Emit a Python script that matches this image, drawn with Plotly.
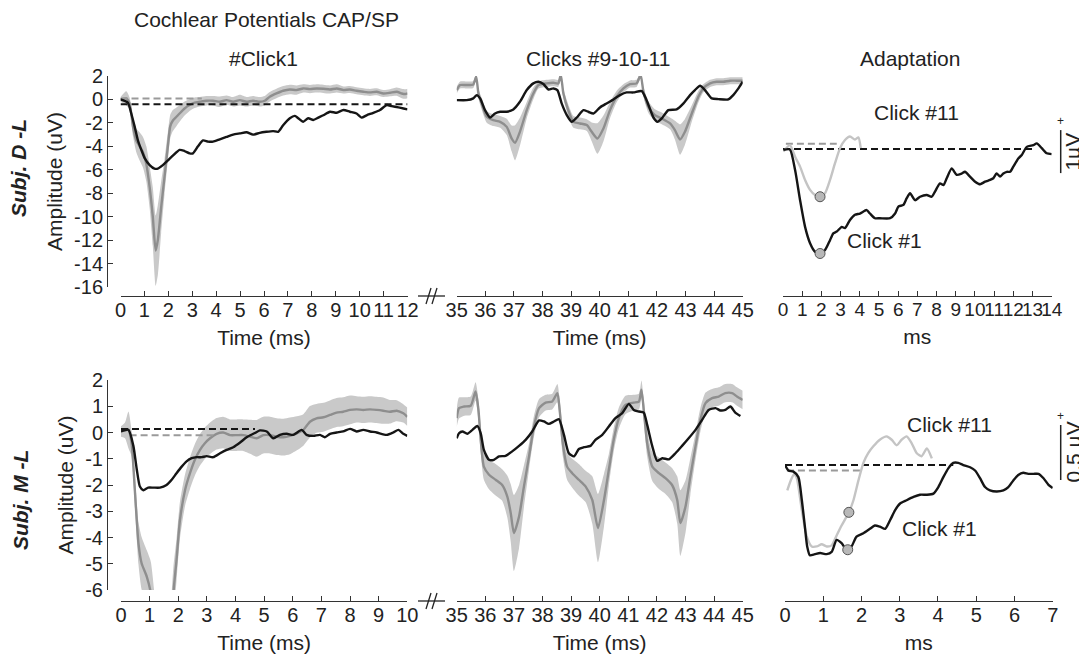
import plotly.graph_objects as go

# The page body has an 8 px margin: the figure is made smaller so that the page never
# scrolls, and every layout position below is given in window pixels shifted by OFF.
WIN_W, WIN_H = 1087, 662
OFF = 8
W, H = WIN_W - OFF, WIN_H - 2 * OFF

# ---------------- data: top row (Subj. D -L) ----------------
t1_gray_x = [0, 0.24, 0.38, 0.52, 0.66, 0.80, 0.94, 1.08, 1.22, 1.35, 1.47, 1.56, 1.70, 1.84, 1.98, 2.08, 2.19, 2.33, 2.47, 2.68,
             2.89, 3.10, 3.31, 3.59, 3.87, 4.15, 4.43, 4.71, 4.99, 5.27, 5.54, 5.82, 6.03, 6.24, 6.52, 6.80, 7.08, 7.36, 7.64, 7.92,
             8.20, 8.48, 8.76, 9.04, 9.32, 9.59, 9.87, 10.15, 10.43, 10.71, 10.99, 11.27, 11.55, 11.76, 11.90, 12.0]
t1_gray_y = [0, 0.09, -0.34, -2.3, -3.5, -4.0, -4.5, -5.5, -7.5, -10.0, -12.9, -12.0, -9.2, -6.6, -4.0, -2.3, -1.8, -1.5, -1.2, -0.77,
             -0.48, -0.28, -0.2, -0.11, -0.11, -0.2, -0.06, -0.2, -0.06, -0.2, -0.11, -0.2, -0.11, 0.23, 0.51, 0.74, 0.85, 0.8, 0.94, 0.88,
             0.94, 0.91, 0.85, 0.94, 0.8, 0.85, 0.74, 0.66, 0.6, 0.66, 0.51, 0.57, 0.66, 0.51, 0.46, 0.51]
t1_gray_sd = [0.2, 0.6, 0.5, 0.8, 1.0, 1.2, 1.3, 1.5, 1.8, 2.5, 3.0, 3.0, 2.2, 1.5, 1.2, 1.0, 0.9, 0.8, 0.7, 0.6,
              0.5, 0.45, 0.4, 0.4, 0.4, 0.45, 0.4, 0.4, 0.45, 0.4, 0.4, 0.4, 0.4, 0.4, 0.4, 0.4, 0.4, 0.4, 0.35, 0.35,
              0.35, 0.35, 0.35, 0.35, 0.3, 0.3, 0.3, 0.3, 0.3, 0.3, 0.3, 0.3, 0.35, 0.4, 0.4, 0.4]
t1_black_x = [0, 0.31, 0.45, 0.59, 0.73, 0.87, 1.01, 1.22, 1.42, 1.56, 1.77, 1.98, 2.19, 2.47, 2.68, 2.89, 3.03, 3.24, 3.45, 3.66,
              3.87, 4.15, 4.43, 4.71, 4.99, 5.27, 5.54, 5.82, 6.10, 6.38, 6.59, 6.80, 7.08, 7.29, 7.43, 7.64, 7.85, 8.06, 8.27, 8.48,
              8.76, 9.04, 9.32, 9.59, 9.87, 10.08, 10.29, 10.57, 10.85, 11.13, 11.34, 11.62, 11.83, 12.0]
t1_black_y = [0, -0.28, -1.2, -2.3, -3.5, -4.3, -5.0, -5.6, -5.9, -5.9, -5.6, -5.2, -4.8, -4.3, -4.4, -4.6, -4.6, -4.0, -3.5, -3.6,
              -3.6, -3.4, -3.2, -3.0, -2.9, -2.8, -3.0, -2.85, -2.76, -2.7, -2.76, -2.2, -1.6, -1.4, -1.6, -1.9, -1.6, -1.75, -1.55, -1.35,
              -1.05, -1.14, -0.9, -1.05, -1.2, -1.55, -1.35, -1.14, -0.9, -0.48, -0.57, -0.68, -0.77, -0.85]
t1_base_black_x, t1_base_black_y = [0, 12], [-0.4, -0.4]
t1_base_gray_x, t1_base_gray_y = [0, 3.4], [0.09, 0.09]

t2_gray_x = [35.0, 35.12, 35.35, 35.58, 35.68, 35.76, 35.87, 36.05, 36.28, 36.52, 36.75, 36.92, 37.04, 37.21, 37.45, 37.68, 37.86,
             38.15, 38.38, 38.55, 38.64, 38.73, 38.90, 39.08, 39.31, 39.55, 39.72, 39.92, 40.13, 40.36, 40.59, 40.83, 41.06, 41.29,
             41.43, 41.53, 41.70, 41.93, 42.17, 42.46, 42.63, 42.81, 42.98, 43.22, 43.45, 43.62, 43.86, 44.09, 44.32, 44.56, 44.79, 45.0]
t2_gray_y = [0.8, 1.23, 1.23, 1.28, 1.94, 0.51, -0.34, -1.48, -1.77, -1.91, -2.34, -3.33, -3.70, -2.76, -0.91, 0.51, 1.23,
             1.37, 1.42, 1.37, 2.08, 0.51, -0.91, -1.91, -2.05, -2.19, -2.76, -3.33, -2.48, -0.91, 0.23, 0.94, 1.31, 1.37,
             2.08, 0.66, -0.63, -1.34, -1.62, -2.05, -2.62, -3.42, -2.76, -1.2, 0.23, 0.94, 1.37, 1.51, 1.51, 1.6, 1.6, 1.6]
t2_gray_sd = [0.3, 0.3, 0.3, 0.3, 0.3, 0.4, 0.5, 0.5, 0.5, 0.5, 0.7, 1.1, 1.5, 1.2, 0.7, 0.5, 0.3,
              0.3, 0.3, 0.3, 0.3, 0.4, 0.5, 0.5, 0.5, 0.5, 0.8, 1.3, 1.1, 0.7, 0.5, 0.35, 0.3, 0.3,
              0.3, 0.4, 0.5, 0.5, 0.5, 0.5, 0.8, 1.3, 1.1, 0.7, 0.5, 0.35, 0.3, 0.3, 0.3, 0.3, 0.3, 0.3]
t2_black_x = [35.0, 35.35, 35.58, 35.70, 35.82, 35.99, 36.17, 36.34, 36.52, 36.75, 36.98, 37.21, 37.45, 37.68, 37.86, 38.03, 38.21,
              38.38, 38.52, 38.67, 38.85, 39.02, 39.20, 39.43, 39.60, 39.78, 40.01, 40.24, 40.48, 40.71, 40.94, 41.18, 41.47, 41.64,
              41.88, 42.02, 42.17, 42.40, 42.69, 42.93, 43.16, 43.33, 43.51, 43.68, 43.92, 44.15, 44.50, 44.67, 44.85, 45.0]
t2_black_y = [-0.06, -0.06, 0.09, 0.37, 0.09, -0.91, -1.54, -1.2, -1.05, -1.05, -0.85, -0.2, 0.8, 1.37, 1.51, 1.31, 0.85,
              0.94, 0.8, -0.34, -1.34, -1.91, -1.54, -0.91, -1.05, -1.2, -0.68, -0.34, 0, 0.37, 0.6, 0.6, 0.71, -0.06,
              -1.54, -1.91, -1.62, -0.91, -0.85, -0.34, 0.37, 0.8, 1.17, 0.8, 0.09, 0.03, 0, 0.37, 0.94, 1.51]

a1_click1_x = [0.02, 0.36, 0.63, 0.89, 1.15, 1.41, 1.67, 1.93, 2.19, 2.45, 2.62, 2.80, 3.06, 3.23, 3.49, 3.75, 4.01, 4.36, 4.53, 4.79,
               5.05, 5.58, 5.84, 6.01, 6.27, 6.44, 6.62, 6.88, 7.14, 7.49, 7.75, 7.92, 8.18, 8.36, 8.53, 8.79, 9.05, 9.31, 9.48, 9.74,
               10.01, 10.27, 10.53, 10.79, 10.96, 11.13, 11.31, 11.48, 11.66, 11.83, 12.0, 12.26, 12.44, 12.70, 13.04, 13.22, 13.48, 13.74, 14.0]
a1_click1_y = [-0.02, -0.01, -0.49, -1.19, -1.81, -2.19, -2.39, -2.43, -2.35, -2.12, -1.96, -1.92, -1.81, -1.84, -1.65, -1.53, -1.50, -1.42, -1.50, -1.61,
               -1.61, -1.61, -1.50, -1.34, -1.30, -1.15, -1.03, -1.19, -1.11, -1.07, -1.11, -0.99, -0.80, -0.84, -0.68, -0.45, -0.60, -0.57, -0.53, -0.64,
               -0.76, -0.82, -0.76, -0.72, -0.68, -0.57, -0.64, -0.57, -0.53, -0.53, -0.41, -0.22, -0.14, 0.05, 0.09, 0.13, 0.02, -0.10, -0.12]
a1_click11_x = [0.02, 0.36, 0.63, 0.89, 1.15, 1.41, 1.67, 1.93, 2.19, 2.45, 2.71, 2.97, 3.23, 3.49, 3.75, 3.93, 4.05]
a1_click11_y = [-0.06, 0.09, -0.18, -0.41, -0.72, -0.95, -1.07, -1.11, -1.03, -0.72, -0.33, 0.02, 0.21, 0.29, 0.22, 0.27, 0.02]
a1_peak_x = [1.93, 1.93]
a1_peak_y = [-1.11, -2.43]
a1_base_black_x, a1_base_black_y = [0, 13.0], [0, 0]
a1_base_gray_x, a1_base_gray_y = [0.15, 2.8], [0.12, 0.12]

# ---------------- data: bottom row (Subj. M -L) ----------------
b1_gray_x = [0, 0.14, 0.26, 0.37, 0.49, 0.61, 0.72, 0.90, 1.04, 1.2, 1.4, 1.6, 1.75, 1.83, 1.94, 2.06, 2.24, 2.41, 2.58, 2.76,
             2.93, 3.11, 3.34, 3.57, 3.81, 4.04, 4.27, 4.51, 4.74, 4.97, 5.20, 5.44, 5.67, 5.90, 6.14, 6.37, 6.60, 6.83, 7.07, 7.30,
             7.53, 7.76, 8.00, 8.23, 8.46, 8.70, 8.93, 9.16, 9.39, 9.63, 9.86, 10.0]
b1_gray_y = [0.04, 0.08, 0.1, -0.41, -2.31, -4.22, -4.98, -5.49, -6.12, -8.0, -10.0, -9.5, -7.6, -6.12, -4.85, -3.33, -2.18, -1.55, -1.04, -0.66,
             -0.41, -0.22, -0.05, 0.0, -0.1, -0.1, -0.1, -0.16, -0.22, -0.1, -0.1, -0.16, -0.18, -0.13, -0.03, 0.1, 0.41, 0.54, 0.58, 0.67,
             0.76, 0.79, 0.86, 0.88, 0.86, 0.88, 0.86, 0.83, 0.79, 0.83, 0.73, 0.6]
b1_gray_sd = [0.2, 0.3, 0.7, 0.5, 0.6, 0.8, 1.0, 1.0, 1.2, 1.5, 1.5, 1.5, 1.2, 1.0, 0.8, 0.7, 0.6, 0.6, 0.6, 0.6,
              0.6, 0.6, 0.6, 0.6, 0.6, 0.6, 0.6, 0.65, 0.7, 0.7, 0.7, 0.7, 0.7, 0.7, 0.65, 0.6, 0.6, 0.55, 0.55, 0.55,
              0.55, 0.55, 0.55, 0.5, 0.5, 0.5, 0.5, 0.5, 0.45, 0.4, 0.35, 0.35]
b1_black_x = [0, 0.26, 0.43, 0.55, 0.66, 0.78, 0.95, 1.13, 1.36, 1.59, 1.77, 1.94, 2.12, 2.29, 2.47, 2.64, 2.82, 2.99, 3.22, 3.46,
              3.69, 3.92, 4.16, 4.39, 4.66, 4.85, 5.09, 5.32, 5.55, 5.79, 6.02, 6.31, 6.48, 6.72, 6.95, 7.12, 7.30, 7.53, 7.76, 8.00,
              8.23, 8.46, 8.70, 8.93, 9.28, 9.51, 9.69, 9.86, 10.0]
b1_black_y = [0.04, 0.1, -0.5, -1.4, -2.06, -2.2, -2.1, -2.1, -2.1, -2.0, -1.8, -1.55, -1.3, -1.1, -0.98, -0.94, -0.94, -0.9, -0.94, -0.79,
              -0.66, -0.56, -0.38, -0.18, -0.03, 0.08, 0.04, -0.22, -0.09, -0.05, -0.09, 0.1, -0.09, -0.13, -0.09, -0.18, -0.05, 0, 0.04, 0.14,
              0.04, 0.1, 0.04, 0, -0.09, 0, 0.1, -0.05, -0.13]
b1_base_black_x, b1_base_black_y = [0, 4.68], [0.13, 0.13]
b1_base_gray_x, b1_base_gray_y = [0.3, 3.22], [-0.1, -0.1]

b2_gray_x = [35.0, 35.08, 35.26, 35.49, 35.66, 35.76, 35.84, 35.95, 36.13, 36.36, 36.59, 36.77, 36.89, 37.00, 37.18, 37.35, 37.53, 37.70, 37.88,
             38.11, 38.34, 38.52, 38.60, 38.71, 38.86, 39.04, 39.27, 39.51, 39.74, 39.94, 40.15, 40.32, 40.49, 40.67, 40.90, 41.19, 41.37, 41.46,
             41.54, 41.66, 41.84, 42.07, 42.30, 42.53, 42.71, 42.82, 43.00, 43.17, 43.35, 43.52, 43.70, 43.93, 44.16, 44.39, 44.63, 44.80, 45.0]
b2_gray_y = [0.55, 0.93, 0.99, 1.02, 1.56, 0.86, -0.28, -1.3, -1.61, -1.8, -2.0, -2.44, -3.07, -3.83, -3.2, -2.06, -0.91, 0.23, 0.93,
             1.14, 1.18, 1.5, 0.86, -0.41, -1.3, -1.55, -1.8, -2.06, -2.57, -3.64, -2.57, -1.42, -0.28, 0.55, 1.05, 1.14, 1.18, 1.63,
             0.86, -0.41, -1.3, -1.55, -1.74, -2.0, -2.57, -3.45, -2.82, -1.68, -0.53, 0.48, 1.12, 1.31, 1.37, 1.5, 1.5, 1.37, 1.24]
b2_gray_sd = [0.35, 0.4, 0.35, 0.35, 0.35, 0.4, 0.5, 0.5, 0.55, 0.6, 0.6, 0.8, 1.1, 1.45, 1.2, 0.8, 0.5, 0.4, 0.35,
              0.3, 0.3, 0.35, 0.4, 0.5, 0.5, 0.55, 0.6, 0.6, 0.9, 1.3, 1.0, 0.6, 0.45, 0.4, 0.35, 0.3, 0.3, 0.35,
              0.4, 0.5, 0.55, 0.6, 0.6, 0.65, 0.9, 1.25, 1.0, 0.7, 0.5, 0.45, 0.4, 0.35, 0.35, 0.35, 0.35, 0.35, 0.35]
b2_black_x = [35.0, 35.08, 35.20, 35.37, 35.55, 35.72, 35.84, 35.95, 36.13, 36.30, 36.48, 36.71, 36.94, 37.18, 37.41, 37.64, 37.88, 38.05,
              38.22, 38.40, 38.57, 38.75, 38.92, 39.10, 39.27, 39.45, 39.68, 39.85, 40.09, 40.32, 40.55, 40.79, 41.02, 41.19, 41.37, 41.54,
              41.66, 41.84, 42.01, 42.19, 42.42, 42.65, 42.88, 43.11, 43.35, 43.58, 43.81, 44.05, 44.22, 44.39, 44.57, 44.74, 44.92]
b2_black_y = [-0.22, -0.03, 0.04, -0.05, 0.1, 0.25, -0.03, -0.66, -1.04, -1.04, -0.91, -0.89, -0.72, -0.51, -0.28, 0.04, 0.46, 0.42,
              0.33, 0.42, 0.51, -0.09, -0.79, -0.91, -0.63, -0.56, -0.51, -0.28, -0.09, 0.23, 0.55, 0.74, 1.09, 0.86, 0.8, 0.76,
              0.29, -0.53, -1.08, -0.98, -1.02, -0.79, -0.51, -0.22, 0.1, 0.48, 0.86, 0.93, 0.84, 0.86, 0.99, 0.76, 0.63]

a2_click1_x = [0, 0.09, 0.22, 0.35, 0.44, 0.52, 0.58, 0.65, 0.78, 0.92, 1.09, 1.22, 1.35, 1.48, 1.61, 1.74, 1.87, 2.05, 2.22, 2.35,
               2.48, 2.62, 2.75, 2.88, 3.01, 3.18, 3.36, 3.53, 3.71, 3.88, 4.01, 4.14, 4.27, 4.40, 4.53, 4.66, 4.84, 4.97, 5.10, 5.23,
               5.36, 5.54, 5.71, 5.84, 5.97, 6.10, 6.23, 6.36, 6.50, 6.63, 6.76, 6.89, 7.0]
a2_click1_y = [0, -0.05, -0.06, -0.11, -0.32, -0.56, -0.74, -0.82, -0.81, -0.80, -0.81, -0.79, -0.68, -0.71, -0.77, -0.74, -0.65, -0.62, -0.58, -0.55,
               -0.56, -0.58, -0.50, -0.41, -0.35, -0.32, -0.29, -0.27, -0.27, -0.26, -0.20, -0.11, -0.03, 0.02, 0.02, 0, -0.02, -0.05, -0.12, -0.20,
               -0.23, -0.24, -0.23, -0.20, -0.14, -0.09, -0.07, -0.08, -0.08, -0.08, -0.12, -0.18, -0.21]
a2_click11_x = [0.06, 0.15, 0.24, 0.31, 0.44, 0.57, 0.70, 0.83, 0.96, 1.09, 1.22, 1.35, 1.48, 1.67, 1.79, 1.92, 2.05, 2.18, 2.31, 2.48,
                2.66, 2.79, 2.92, 3.05, 3.18, 3.31, 3.44, 3.57, 3.71, 3.84]
a2_click11_y = [-0.23, -0.14, -0.08, -0.12, -0.41, -0.65, -0.74, -0.74, -0.72, -0.74, -0.73, -0.64, -0.55, -0.43, -0.32, -0.14, 0.02, 0.11, 0.17, 0.23,
                0.26, 0.23, 0.18, 0.23, 0.26, 0.20, 0.11, 0.08, 0.15, 0.06]
a2_peak_x = [1.67, 1.64]
a2_peak_y = [-0.43, -0.77]
a2_base_black_x, a2_base_black_y = [0, 4.4], [0, 0]
a2_base_gray_x, a2_base_gray_y = [0.05, 2.0], [-0.05, -0.05]

# tick labels
top1_xticks = list(range(0, 13))
bot1_xticks = list(range(0, 11))
mid_xticks = list(range(35, 46))
top3_xticks = list(range(0, 15))
bot3_xticks = list(range(0, 8))
top_yticks = [2, 0, -2, -4, -6, -8, -10, -12, -14, -16]
bot_yticks = [2, 1, 0, -1, -2, -3, -4, -5, -6]

for xs, ys in [(t1_gray_x, t1_gray_y), (t1_gray_x, t1_gray_sd), (t1_black_x, t1_black_y), (t2_gray_x, t2_gray_y),
               (t2_gray_x, t2_gray_sd), (t2_black_x, t2_black_y), (a1_click1_x, a1_click1_y), (a1_click11_x, a1_click11_y),
               (b1_gray_x, b1_gray_y), (b1_gray_x, b1_gray_sd), (b1_black_x, b1_black_y), (b2_gray_x, b2_gray_y),
               (b2_gray_x, b2_gray_sd), (b2_black_x, b2_black_y), (a2_click1_x, a2_click1_y), (a2_click11_x, a2_click11_y)]:
    assert len(xs) == len(ys), (len(xs), len(ys))

# ---------------- styling ----------------
FONT = "Liberation Sans, Arial, Helvetica, sans-serif"
TXT = "#222222"
BAND = "#c9c9c9"
MEAN = "#8e8e8e"
BLACK = "#151515"
GRAYDASH = "#9a9a9a"
CLICK11 = "#c4c4c4"
TICKSIZE = 20
LABELSIZE = 21


def fx(px):
    return (px - OFF) / W


def fy(py):
    return 1 - (py - OFF) / H


fig = go.Figure()


def line(x, y, n, color, width=2.4, dash=None, shape="spline"):
    fig.add_trace(go.Scatter(x=x, y=y, xaxis=f"x{n}", yaxis=f"y{n}", mode="lines",
                             line=dict(color=color, width=width, dash=dash, shape=shape, smoothing=0.6),
                             showlegend=False, hoverinfo="skip"))


def band(x, y, sd, n):
    lo = [a - b for a, b in zip(y, sd)]
    hi = [a + b for a, b in zip(y, sd)]
    fig.add_trace(go.Scatter(x=x, y=lo, xaxis=f"x{n}", yaxis=f"y{n}", mode="lines",
                             line=dict(width=0, color=BAND, shape="spline", smoothing=0.6),
                             showlegend=False, hoverinfo="skip"))
    fig.add_trace(go.Scatter(x=x, y=hi, xaxis=f"x{n}", yaxis=f"y{n}", mode="lines", fill="tonexty",
                             fillcolor=BAND, line=dict(width=0, color=BAND, shape="spline", smoothing=0.6),
                             showlegend=False, hoverinfo="skip"))


DASH = "7px,4px"

# top row
band(t1_gray_x, t1_gray_y, t1_gray_sd, 1)
line(t1_gray_x, t1_gray_y, 1, MEAN)
line(t1_base_gray_x, t1_base_gray_y, 1, GRAYDASH, 2, DASH, "linear")
line(t1_base_black_x, t1_base_black_y, 1, BLACK, 2, DASH, "linear")
line(t1_black_x, t1_black_y, 1, BLACK)

band(t2_gray_x, t2_gray_y, t2_gray_sd, 2)
line(t2_gray_x, t2_gray_y, 2, MEAN)
line(t2_black_x, t2_black_y, 2, BLACK)

line(a1_base_gray_x, a1_base_gray_y, 3, GRAYDASH, 2, DASH, "linear")
line(a1_base_black_x, a1_base_black_y, 3, BLACK, 2, DASH, "linear")
line(a1_click11_x, a1_click11_y, 3, CLICK11)
line(a1_click1_x, a1_click1_y, 3, BLACK)
fig.add_trace(go.Scatter(x=a1_peak_x, y=a1_peak_y, xaxis="x3", yaxis="y3", mode="markers",
                         marker=dict(size=10, color="#b8b8b8", line=dict(color="#555555", width=1)),
                         showlegend=False, hoverinfo="skip"))

# bottom row
band(b1_gray_x, b1_gray_y, b1_gray_sd, 4)
line(b1_gray_x, b1_gray_y, 4, MEAN)
line(b1_base_gray_x, b1_base_gray_y, 4, GRAYDASH, 2, DASH, "linear")
line(b1_base_black_x, b1_base_black_y, 4, BLACK, 2, DASH, "linear")
line(b1_black_x, b1_black_y, 4, BLACK)

band(b2_gray_x, b2_gray_y, b2_gray_sd, 5)
line(b2_gray_x, b2_gray_y, 5, MEAN)
line(b2_black_x, b2_black_y, 5, BLACK)

line(a2_base_gray_x, a2_base_gray_y, 6, GRAYDASH, 2, DASH, "linear")
line(a2_base_black_x, a2_base_black_y, 6, BLACK, 2, DASH, "linear")
line(a2_click11_x, a2_click11_y, 6, CLICK11)
line(a2_click1_x, a2_click1_y, 6, BLACK)
fig.add_trace(go.Scatter(x=a2_peak_x, y=a2_peak_y, xaxis="x6", yaxis="y6", mode="markers",
                         marker=dict(size=10, color="#b8b8b8", line=dict(color="#555555", width=1)),
                         showlegend=False, hoverinfo="skip"))

# ---------------- axes ----------------
base_ax = dict(showline=True, linecolor="#333333", linewidth=1, ticks="inside", ticklen=5, tickcolor="#333333",
               tickwidth=1, showgrid=False, zeroline=False, automargin=False, tickangle=0,
               tickfont=dict(family=FONT, size=TICKSIZE, color=TXT))


def xax(dom, rng, ticks, pos, title, size=TICKSIZE):
    d = dict(base_ax)
    d.update(domain=[fx(dom[0]), fx(dom[1])], range=rng, tickmode="array", tickvals=ticks,
             ticktext=[str(t) for t in ticks], anchor="free", position=fy(pos), ticklabelstandoff=-4,
             tickfont=dict(family=FONT, size=size, color=TXT),
             title=dict(text=title, font=dict(family=FONT, size=LABELSIZE, color=TXT), standoff=10))
    return d


def yax_visible(dom, rng, ticks, title):
    d = dict(base_ax)
    d.update(domain=[fy(dom[1]), fy(dom[0])], range=rng, tickmode="array", tickvals=ticks,
             ticktext=[str(t) for t in ticks], anchor="free", position=fx(107), ticklabelstandoff=0,
             title=dict(text=title, font=dict(family=FONT, size=LABELSIZE, color=TXT), standoff=4))
    return d


def yax_hidden(dom, rng):
    return dict(domain=[fy(dom[1]), fy(dom[0])], range=rng, visible=False, anchor="free", position=0,
                showgrid=False, zeroline=False)


TOP = (76, 287)
BOT = (380, 590)

fig.update_layout(
    width=W, height=H,
    margin=dict(l=0, r=0, t=0, b=0),
    paper_bgcolor="white", plot_bgcolor="white",
    font=dict(family=FONT, color=TXT),
    template="none",
    xaxis=xax((120.5, 407.5), [0, 12], top1_xticks, 296, "Time (ms)"),
    yaxis=yax_visible(TOP, [-16, 2], top_yticks, "Amplitude (uV)"),
    xaxis2=xax((456.7, 742.7), [35, 45], mid_xticks, 296, "Time (ms)"),
    yaxis2=yax_hidden(TOP, [-16, 2]),
    xaxis3=xax((783, 1051.7), [0, 14], top3_xticks, 296, "ms", size=19),
    yaxis3=yax_hidden(TOP, [-3.209, 1.698]),
    xaxis4=xax((121, 407.3), [0, 10], bot1_xticks, 601, "Time (ms)"),
    yaxis4=yax_visible(BOT, [-6, 2], bot_yticks, "Amplitude (uV)"),
    xaxis5=xax((456.7, 742.7), [35, 45], mid_xticks, 601, "Time (ms)"),
    yaxis5=yax_hidden(BOT, [-6, 2]),
    xaxis6=xax((785, 1052.7), [0, 7], bot3_xticks, 601, "ms"),
    yaxis6=yax_hidden(BOT, [-1.136, 0.773]),
)


# ---------------- text ----------------
def ann(text, x, y, xref="paper", yref="paper", size=LABELSIZE, angle=0, xanchor="center", yanchor="middle"):
    fig.add_annotation(text=text, x=x, y=y, xref=xref, yref=yref, showarrow=False, textangle=angle,
                       xanchor=xanchor, yanchor=yanchor, font=dict(family=FONT, size=size, color=TXT))


ann("Cochlear Potentials CAP/SP", fx(132), fy(20), xanchor="left")
ann("#Click1", fx(263), fy(58))
ann("Clicks #9-10-11", fx(598), fy(58))
ann("Adaptation", fx(910), fy(58))
ann("<b><i>Subj. D -L</i></b>", fx(19), fy(168), angle=-90)
ann("<b><i>Subj. M -L</i></b>", fx(20), fy(500), angle=-90)

ann("Click #11", 6.98, 0.86, "x3", "y3")
ann("Click #1", 5.3, -2.12, "x3", "y3")
ann("Click #11", 4.31, 0.364, "x6", "y6")
ann("Click #1", 4.05, -0.573, "x6", "y6")

# scale bars (1 uV top, 0.5 uV bottom), drawn in the adaptation y units
SB_X = fx(1060.7)
fig.add_shape(type="line", xref="paper", yref="y3", x0=SB_X, x1=SB_X, y0=0.44, y1=-0.56,
              line=dict(color="#222222", width=1.5))
fig.add_shape(type="line", xref="paper", yref="y6", x0=SB_X, x1=SB_X, y0=0.364, y1=-0.136,
              line=dict(color="#222222", width=1.5))
ann("+", SB_X, 0.44, "paper", "y3", size=12, yanchor="bottom")
ann("+", SB_X, 0.364, "paper", "y6", size=12, yanchor="bottom")
ann("1µV", fx(1073), -0.06, "paper", "y3", angle=-90)
ann("0.5 µV", fx(1073), 0.114, "paper", "y6", angle=-90)

# axis-break marks between the first and second panels
for py in (296, 601):
    fig.add_shape(type="line", xref="paper", yref="paper", x0=fx(418), x1=fx(445), y0=fy(py), y1=fy(py),
                  line=dict(color="#222222", width=1.3))
    for dx in (0, 6):
        fig.add_shape(type="line", xref="paper", yref="paper", x0=fx(426 + dx), x1=fx(431 + dx),
                      y0=fy(py + 8), y1=fy(py - 8), line=dict(color="#222222", width=1.3))

fig.write_html("out.html")
